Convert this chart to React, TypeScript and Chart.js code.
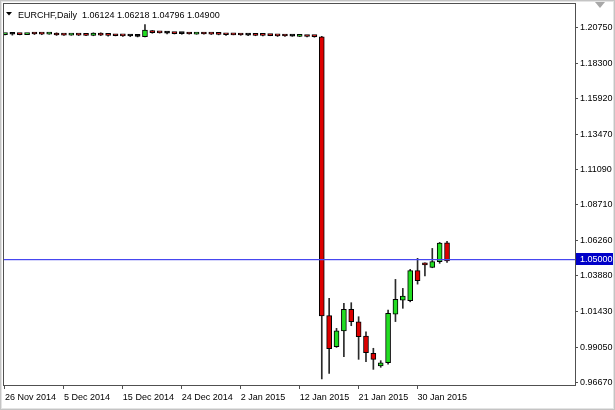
import React, { useEffect, useRef } from 'react';
import { Chart, registerables } from 'chart.js';

Chart.register(...registerables);

// ---------- data ----------
const symbolTitle = 'EURCHF,Daily';

const dates = [
  '26 Nov 2014', '27 Nov 2014', '28 Nov 2014', '30 Nov 2014', '1 Dec 2014', '2 Dec 2014', '3 Dec 2014', '4 Dec 2014',
  '5 Dec 2014', '7 Dec 2014', '8 Dec 2014', '9 Dec 2014', '10 Dec 2014', '11 Dec 2014', '12 Dec 2014', '14 Dec 2014',
  '15 Dec 2014', '16 Dec 2014', '17 Dec 2014', '18 Dec 2014', '19 Dec 2014', '21 Dec 2014', '22 Dec 2014', '23 Dec 2014',
  '24 Dec 2014', '25 Dec 2014', '26 Dec 2014', '28 Dec 2014', '29 Dec 2014', '30 Dec 2014', '31 Dec 2014', '1 Jan 2015',
  '2 Jan 2015', '4 Jan 2015', '5 Jan 2015', '6 Jan 2015', '7 Jan 2015', '8 Jan 2015', '9 Jan 2015', '11 Jan 2015',
  '12 Jan 2015', '13 Jan 2015', '14 Jan 2015', '15 Jan 2015', '16 Jan 2015', '18 Jan 2015', '19 Jan 2015', '20 Jan 2015',
  '21 Jan 2015', '22 Jan 2015', '23 Jan 2015', '25 Jan 2015', '26 Jan 2015', '27 Jan 2015', '28 Jan 2015', '29 Jan 2015',
  '30 Jan 2015', '1 Feb 2015', '2 Feb 2015', '3 Feb 2015', '4 Feb 2015',
];

const opens = [
  1.2024, 1.2026, 1.2025, 1.2024, 1.2030, 1.2029, 1.2027, 1.2034,
  1.2021, 1.2020, 1.2021, 1.2020, 1.2019, 1.2034, 1.2020, 1.2017,
  1.2016, 1.2014, 1.2012, 1.2010, 1.2050, 1.2036, 1.2034, 1.2032,
  1.2030, 1.2029, 1.2027, 1.2029, 1.2028, 1.2028, 1.2025, 1.2023,
  1.2022, 1.2020, 1.2020, 1.2019, 1.2018, 1.2018, 1.2015, 1.2013,
  1.2012, 1.2012, 1.2011, 1.2008, 1.0118, 0.9908, 1.0014, 1.0161,
  1.0077, 0.9980, 0.9863, 0.9777, 0.9799, 1.0129, 1.0224, 1.0219,
  1.0423, 1.0466, 1.0446, 1.0484, 1.06124,
];

const highs = [
  1.2027, 1.2032, 1.2027, 1.2025, 1.2031, 1.2031, 1.2033, 1.2036,
  1.2024, 1.2021, 1.2024, 1.2023, 1.2036, 1.2036, 1.2022, 1.2019,
  1.2018, 1.2020, 1.2018, 1.2092, 1.2052, 1.2037, 1.2040, 1.2034,
  1.2035, 1.2030, 1.2033, 1.2030, 1.2031, 1.2029, 1.2026, 1.2024,
  1.2025, 1.2024, 1.2022, 1.2021, 1.2019, 1.2019, 1.2017, 1.2014,
  1.2018, 1.2014, 1.2013, 1.2012, 1.0236, 1.0032, 1.0202, 1.0206,
  1.0111, 1.0009, 0.9897, 0.9813, 1.0156, 1.0364, 1.0303, 1.0432,
  1.0507, 1.0477, 1.0574, 1.0615, 1.06218,
];

const lows = [
  1.2021, 1.2020, 1.2022, 1.2023, 1.2024, 1.2023, 1.2026, 1.2018,
  1.2018, 1.2019, 1.2017, 1.2016, 1.2016, 1.2017, 1.2013, 1.2015,
  1.2012, 1.2010, 1.2008, 1.2008, 1.2033, 1.2034, 1.2028, 1.2028,
  1.2026, 1.2027, 1.2026, 1.2027, 1.2024, 1.2022, 1.2019, 1.2022,
  1.2019, 1.2016, 1.2016, 1.2014, 1.2016, 1.2011, 1.2012, 1.2012,
  1.2010, 1.2008, 1.2006, 0.9690, 0.9727, 0.9903, 0.9840, 1.0050,
  0.9822, 0.9806, 0.9754, 0.9768, 0.9790, 1.0078, 1.0168, 1.0212,
  1.0332, 1.0387, 1.0443, 1.0473, 1.04796,
];

const closes = [
  1.2025, 1.2026, 1.2024, 1.2025, 1.2028, 1.2027, 1.2029, 1.2021,
  1.2020, 1.2021, 1.2020, 1.2019, 1.2034, 1.2020, 1.2018, 1.2016,
  1.2015, 1.2014, 1.2012, 1.2055, 1.2037, 1.2035, 1.2034, 1.2030,
  1.2030, 1.2028, 1.2029, 1.2028, 1.2027, 1.2025, 1.2023, 1.2022,
  1.2021, 1.2020, 1.2019, 1.2018, 1.2017, 1.2015, 1.2014, 1.2013,
  1.2013, 1.2011, 1.2010, 1.0117, 0.9894, 1.0016, 1.0161, 1.0077,
  0.9975, 0.9867, 0.9822, 0.9799, 1.0134, 1.0229, 1.0251, 1.0423,
  1.0355, 1.0462, 1.0484, 1.0610, 1.04900,
];

const yTickValues = [1.2075, 1.183, 1.1592, 1.1347, 1.1109, 1.0871, 1.0626, 1.0388, 1.0143, 0.9905, 0.9667];
const xTickIndices = [0, 8, 16, 24, 32, 40, 48, 56];
const bidPrice = 1.05;

const Y_MIN = 0.9648;
const Y_MAX = 1.2238;
const X_MIN = -0.27;
const X_MAX = 77.37;

const FONT = 'Liberation Sans';

const decorPlugin = {
  id: 'decor',
  beforeDraw(chart: any) {
    const { ctx, width, height } = chart;
    ctx.save();
    ctx.fillStyle = '#ffffff';
    ctx.fillRect(0, 0, width, height);
    ctx.lineWidth = 1;
    ctx.strokeStyle = '#c4c4c4';
    ctx.strokeRect(0.5, 0.5, width - 1, height - 1);
    ctx.strokeStyle = '#e4e4e4';
    ctx.strokeRect(1.5, 1.5, width - 3, height - 3);
    ctx.restore();
  },
  afterDraw(chart: any) {
    const { ctx, chartArea } = chart;
    const yScale = chart.scales.y;
    ctx.save();
    // bid line
    const by = Math.round(yScale.getPixelForValue(bidPrice)) + 0.5;
    ctx.strokeStyle = '#4646f0';
    ctx.lineWidth = 1;
    ctx.beginPath();
    ctx.moveTo(chartArea.left, by);
    ctx.lineTo(chartArea.right, by);
    ctx.stroke();
    ctx.strokeStyle = 'rgba(90,90,240,0.25)';
    ctx.beginPath();
    ctx.moveTo(chartArea.left, by + 1);
    ctx.lineTo(chartArea.right, by + 1);
    ctx.stroke();
    // frame
    ctx.strokeStyle = '#505050';
    ctx.strokeRect(
      Math.round(chartArea.left) + 0.5,
      Math.round(chartArea.top) + 0.5,
      Math.round(chartArea.right - chartArea.left),
      Math.round(chartArea.bottom - chartArea.top)
    );
    // bid label box
    ctx.fillStyle = '#0000c8';
    ctx.fillRect(chartArea.right + 1, by - 6.5, 37, 12);
    ctx.fillStyle = '#ffffff';
    ctx.font = `9px "${FONT}"`;
    ctx.textBaseline = 'middle';
    ctx.textAlign = 'left';
    ctx.fillText(bidPrice.toFixed(5), chartArea.right + 5, by);
    // title
    const last = opens.length - 1;
    ctx.fillStyle = '#000000';
    ctx.beginPath();
    ctx.moveTo(6, 12);
    ctx.lineTo(12, 12);
    ctx.lineTo(9, 15.5);
    ctx.closePath();
    ctx.fill();
    ctx.textBaseline = 'alphabetic';
    ctx.font = `9px "${FONT}"`;
    const t = `${symbolTitle}  ${opens[last].toFixed(5)} ${highs[last].toFixed(5)} ${lows[last].toFixed(5)} ${closes[last].toFixed(5)}`;
    ctx.fillText(t, 18, 17.5);
    // chart shift marker
    ctx.fillStyle = '#a8a8a8';
    ctx.beginPath();
    ctx.moveTo(595, 2);
    ctx.lineTo(605, 2);
    ctx.lineTo(600, 8);
    ctx.closePath();
    ctx.fill();
    ctx.restore();
  },
};

export default function App() {
  const ref = useRef<HTMLCanvasElement | null>(null);

  useEffect(() => {
    document.body.style.margin = '0';
    const canvas = ref.current;
    if (!canvas) return;

    const bodyColors = opens.map((o, i) =>
      closes[i] > o ? '#22dd22' : closes[i] < o ? '#dd0000' : '#000000'
    );

    const chart = new Chart(canvas, {
      type: 'bar',
      data: {
        datasets: [
          {
            label: 'body',
            data: dates.map((_, i) => ({ x: i, y: [opens[i], closes[i]] })) as any,
            backgroundColor: bodyColors,
            borderColor: '#000000',
            borderWidth: 1,
            borderSkipped: false,
            barThickness: 5,
            minBarLength: 2,
            grouped: false,
          } as any,
          {
            label: 'wick',
            data: dates.map((_, i) => ({ x: i, y: [lows[i], highs[i]] })) as any,
            backgroundColor: '#2a2a2a',
            borderWidth: 0,
            barThickness: 1,
            minBarLength: 1,
            grouped: false,
          } as any,
        ],
      },
      options: {
        responsive: false,
        animation: false,
        devicePixelRatio: 1,
        layout: { padding: { left: 3, top: 3, right: 0, bottom: 0 } },
        plugins: {
          legend: { display: false },
          tooltip: { enabled: false },
          title: { display: false },
        },
        scales: {
          x: {
            type: 'linear',
            min: X_MIN,
            max: X_MAX,
            offset: false,
            border: { display: false },
            grid: {
              display: true,
              offset: false,
              drawOnChartArea: false,
              drawTicks: true,
              tickLength: 4,
              color: '#505050',
            },
            ticks: {
              autoSkip: false,
              maxRotation: 0,
              minRotation: 0,
              align: 'start',
              padding: 3,
              color: '#000000',
              font: { family: FONT, size: 9 },
              callback: (v: any) => dates[Math.round(Number(v))] ?? '',
            },
            afterBuildTicks: (scale: any) => {
              scale.ticks = xTickIndices.map((v) => ({ value: v }));
            },
            afterFit: (scale: any) => {
              scale.height = 25;
              scale.paddingLeft = 0;
              scale.paddingRight = 0;
            },
          } as any,
          y: {
            type: 'linear',
            position: 'right',
            min: Y_MIN,
            max: Y_MAX,
            border: { display: false },
            grid: {
              display: true,
              drawOnChartArea: false,
              drawTicks: true,
              tickLength: 3,
              color: '#505050',
            },
            ticks: {
              padding: 2,
              color: '#000000',
              font: { family: FONT, size: 9 },
              callback: (v: any) => Number(v).toFixed(5),
            },
            afterBuildTicks: (scale: any) => {
              scale.ticks = yTickValues.map((v) => ({ value: v }));
            },
            afterFit: (scale: any) => {
              scale.width = 40;
              scale.paddingTop = 0;
              scale.paddingBottom = 0;
            },
          } as any,
        },
      },
      plugins: [decorPlugin],
    });

    return () => chart.destroy();
  }, []);

  return <canvas ref={ref} width={615} height={410} style={{ display: 'block' }} />;
}
